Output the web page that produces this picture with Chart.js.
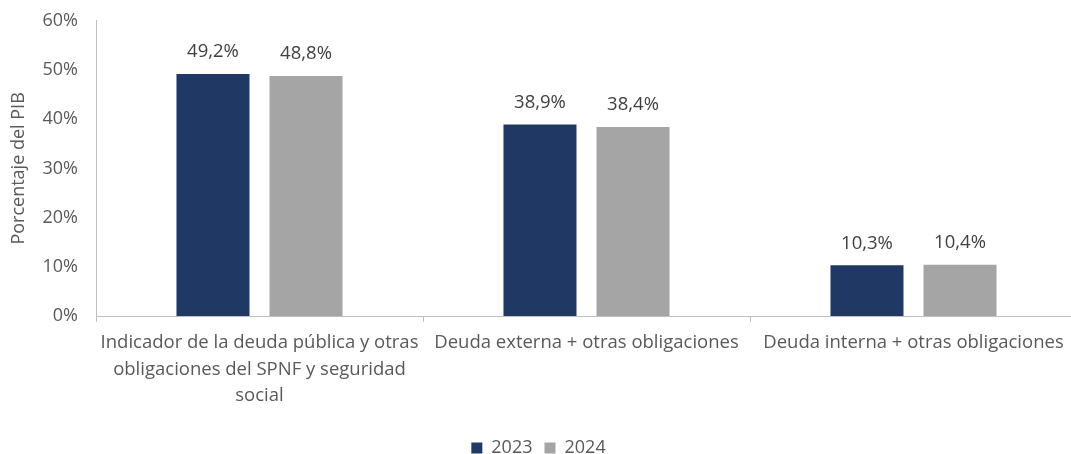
<!DOCTYPE html>
<html>
<head>
<meta charset="utf-8">
<script src="https://cdn.jsdelivr.net/npm/chart.js@4"></script>
<style>
  html, body { margin: 0; padding: 0; background: #fff; overflow: hidden; }
  #wrap { width: 1090px; height: 467px; }
</style>
</head>
<body>
<div id="wrap"><canvas id="debtChart"></canvas></div>
<script>
const categories = [
    ['Indicador de la deuda pública y otras', 'obligaciones del SPNF y seguridad', 'social'],
    'Deuda externa + otras obligaciones',
    'Deuda interna + otras obligaciones'
];
const values2023 = [49.2, 38.9, 10.3];
const values2024 = [48.8, 38.4, 10.4];
const yTicks = [0, 10, 20, 30, 40, 50, 60];

const textColor = '#595959';
const fontFamily = "'Open Sans', 'Noto Sans', sans-serif";

// labels above each bar, comma decimal
const barLabels = {
    id: 'barLabels',
    afterDatasetsDraw(chart) {
        const ctx = chart.ctx;
        ctx.save();
        ctx.font = '18.5px ' + fontFamily;
        ctx.fillStyle = '#404040';
        ctx.textAlign = 'center';
        ctx.textBaseline = 'middle';
        chart.data.datasets.forEach((ds, i) => {
            chart.getDatasetMeta(i).data.forEach((bar, j) => {
                const txt = ds.data[j].toFixed(1).replace('.', ',') + '%';
                ctx.fillText(txt, bar.x, bar.y - 22);
            });
        });
        ctx.restore();
    }
};

const ctx = document.getElementById('debtChart').getContext('2d');
const debtChart = new Chart(ctx, {
    type: 'bar',
    data: {
        labels: categories,
        datasets: [
            { label: '2023', data: values2023, backgroundColor: '#203864', borderWidth: 0 },
            { label: '2024', data: values2024, backgroundColor: '#A5A5A5', borderWidth: 0 }
        ]
    },
    options: {
        responsive: true,
        maintainAspectRatio: false,
        animation: false,
        categoryPercentage: 0.569,
        barPercentage: 0.785,
        layout: { padding: { top: 15, right: 13, left: 0, bottom: 0 } },
        plugins: {
            tooltip: { enabled: false },
            legend: {
                position: 'bottom',
                labels: {
                    boxWidth: 11,
                    boxHeight: 11,
                    padding: 12,
                    color: textColor,
                    font: { family: fontFamily, size: 18 }
                }
            }
        },
        scales: {
            x: {
                grid: { display: true, offset: true, drawOnChartArea: false, drawTicks: true, tickLength: 6, color: '#BFBFBF' },
                border: { display: true, color: '#BFBFBF', width: 1 },
                ticks: {
                    color: textColor,
                    padding: 7,
                    maxRotation: 0,
                    autoSkip: false,
                    font: { family: fontFamily, size: 18.5, lineHeight: 1.45 }
                },
                afterFit(scale) { scale.height = 111; }
            },
            y: {
                min: 0,
                max: 60,
                afterBuildTicks(scale) { scale.ticks = yTicks.map(v => ({ value: v })); },
                grid: { display: false },
                border: { display: true, color: '#BFBFBF', width: 1 },
                ticks: {
                    color: textColor,
                    padding: 10,
                    font: { family: fontFamily, size: 18 },
                    callback: v => v + '%'
                },
                title: {
                    display: true,
                    text: 'Porcentaje del PIB',
                    color: textColor,
                    font: { family: fontFamily, size: 18 },
                    padding: { top: 8, bottom: 0 }
                },
                afterFit(scale) { scale.width = 96; }
            }
        }
    },
    plugins: [barLabels]
});
</script>
</body>
</html>
